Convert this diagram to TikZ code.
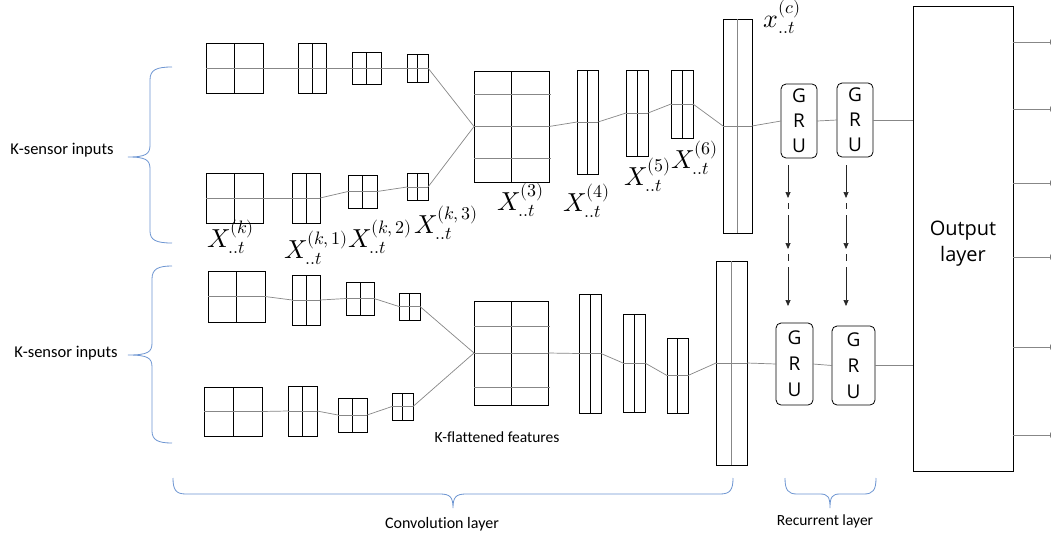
\documentclass[tikz,border=0pt]{standalone}
\usepackage{fontspec}
\usepackage{unicode-math}
\setmathfont{Latin Modern Math}
\newfontfamily\lblfont{Carlito}[Ligatures=NoCommon]
\newfontfamily\osfont{Open Sans}
\usetikzlibrary{arrows.meta}
\definecolor{conngray}{RGB}{135,135,135}
\definecolor{brc}{RGB}{110,150,210}
\tikzset{
 cell/.style={draw=black, line width=1pt, inner sep=0pt, outer sep=0pt, rectangle},
 gridv/.style={line width=0.6pt, black},
 gridvg/.style={line width=0.9pt, conngray},
 gridg/.style={line width=0.7pt, conngray},
 conn/.style={line width=0.7pt, conngray},
 gru/.style={draw, line width=0.8pt, rounded corners=5pt, inner sep=0pt, outer sep=0pt, align=center, font=\osfont\fontsize{19}{25}\selectfont},
 brace/.style={draw=brc, line width=0.8pt},
 lbl/.style={font=\lblfont\fontsize{16}{18}\selectfont, inner sep=0pt},
 mlab/.style={font=\fontsize{26}{30}\selectfont, inner sep=0pt, anchor=base west},
 darr/.style={line width=0.7pt, black!85, -{Triangle[length=6pt,width=5pt]}},
 oarr/.style={line width=0.7pt, conngray, -{Triangle[length=6pt,width=5pt, fill=black]}},
}
\newcommand\cellbox[5]{\node[cell, minimum width=#4, minimum height=#5] (#1) at (#2,#3) {};}
\newcommand\vmid[1]{\draw[gridv] (#1.north) -- (#1.south);}
\newcommand\hmid[1]{\draw[gridg] (#1.west) -- (#1.east);}
\newcommand\smallm[1]{\mbox{\fontsize{18}{18}\selectfont$#1$}}
\newcommand\lab[2]{$#1^{\smallm{(#2)}}_{\smallm{..t}}$}
\begin{document}
\begin{tikzpicture}[x=1pt,y=-1pt]
\fill[white] (0,0) rectangle (1051,533);
\useasboundingbox (0,0) rectangle (1051,533);

% ---------- top group ----------
\cellbox{A1}{234.5}{68}{57}{50}
\cellbox{B1}{312}{68}{28}{50}
\cellbox{C1}{366.5}{68}{29}{32}
\cellbox{D1}{417.5}{68}{21}{28}
\cellbox{A2}{234.5}{198}{57}{50}
\cellbox{B2}{306}{198}{28}{50}
\cellbox{C2}{362.5}{191.5}{29}{33}
\cellbox{D2}{417.5}{187}{21}{27}
\cellbox{E1}{511.5}{126.5}{75}{111}
\cellbox{F1}{587.5}{122}{21}{104}
\cellbox{G1}{637}{113}{22}{86}
\cellbox{H1}{682}{104}{22}{68}
\cellbox{V1}{737.5}{126}{29}{214}
\foreach \n in {A1,B1,C1,D1,A2,B2,C2,D2,E1,F1,G1,H1}{\vmid{\n}}
\foreach \n in {A1,B1,C1,D1,A2,B2,C2,D2,E1,F1,G1,H1,V1}{\hmid{\n}}
\draw[gridvg] (V1.north) -- (V1.south);
\coordinate (e1a) at (474,94);
\coordinate (e1b) at (474,158);
\draw[gridg] (e1a) -- ([xshift=2pt]e1a -| E1.east);
\draw[gridg] (e1b) -- ([xshift=2pt]e1b -| E1.east);

\draw[conn] (A1.east) -- (B1.west);
\draw[conn] (B1.east) -- (C1.west);
\draw[conn] (C1.east) -- (D1.west);
\draw[conn] (A2.east) -- (B2.west);
\draw[conn] (B2.east) -- (C2.west);
\draw[conn] (C2.east) -- (D2.west);
\draw[conn] (D1.east) -- (E1.west);
\draw[conn] (D2.east) -- (E1.west);
\draw[conn] (E1.east) -- (F1.west);
\draw[conn] (F1.east) -- (G1.west);
\draw[conn] (G1.east) -- (H1.west);
\draw[conn] (H1.east) -- (V1.west);

% ---------- bottom group ----------
\cellbox{A3}{236.5}{296.5}{57}{51}
\cellbox{B3}{306}{300}{28}{50}
\cellbox{C3}{360}{298.5}{28}{33}
\cellbox{D3}{409.5}{306.5}{21}{27}
\cellbox{A4}{233}{411.5}{58}{49}
\cellbox{B4}{302.5}{411}{29}{50}
\cellbox{C4}{352.5}{415}{29}{34}
\cellbox{D4}{402.5}{406.5}{21}{27}
\cellbox{E2}{511}{353}{74}{104}
\cellbox{F2}{590}{353.5}{22}{119}
\cellbox{G2}{634}{363}{22}{98}
\cellbox{H2}{677.5}{375.5}{21}{75}
\cellbox{V2}{731.5}{363}{31}{204}
\foreach \n in {A3,B3,C3,D3,A4,B4,C4,D4,E2,F2,G2,H2}{\vmid{\n}}
\foreach \n in {A3,B3,C3,D3,A4,B4,C4,D4,E2,F2,G2,H2,V2}{\hmid{\n}}
\draw[gridvg] (V2.north) -- (V2.south);
\coordinate (e2a) at (474,326);
\coordinate (e2b) at (474,387);
\draw[gridg] (e2a) -- ([xshift=2pt]e2a -| E2.east);
\draw[gridg] (e2b) -- ([xshift=2pt]e2b -| E2.east);

\draw[conn] (A3.east) -- (B3.west);
\draw[conn] (B3.east) -- (C3.west);
\draw[conn] (C3.east) -- (D3.west);
\draw[conn] (A4.east) -- (B4.west);
\draw[conn] (B4.east) -- (C4.west);
\draw[conn] (C4.east) -- (D4.west);
\draw[conn] (D3.east) -- (E2.west);
\draw[conn] (D4.east) -- (E2.west);
\draw[conn] (E2.east) -- (F2.west);
\draw[conn] (F2.east) -- (G2.west);
\draw[conn] (G2.east) -- (H2.west);
\draw[conn] (H2.east) -- (V2.west);

% ---------- GRUs ----------
\node[gru, minimum width=36, minimum height=74] (G1u) at (799,121) {G\\R\\U};
\node[gru, minimum width=36, minimum height=74] (G2u) at (855,120) {G\\R\\U};
\node[gru, minimum width=37, minimum height=82, font=\osfont\fontsize{19}{26}\selectfont] (G3u) at (794.5,364) {G\\R\\U};
\node[gru, minimum width=43, minimum height=79, font=\osfont\fontsize{19}{26}\selectfont] (G4u) at (853.5,365.5) {G\\R\\U};

\node[cell, minimum width=100, minimum height=465] (Out) at (963,238.5) {};
\node[font=\osfont\fontsize{20}{26}\selectfont, align=center, inner sep=0pt] (outtxt) at (963,244) {Output\\layer};

\draw[conn] (V1.east) -- (G1u.west);
\draw[conn] (G1u.east) -- (G2u.west);
\draw[conn] (G2u.east) -- (G2u.east -| Out.west);
\draw[conn] (V2.east) -- (G3u.west);
\draw[conn] (G3u.east) -- (G4u.west);
\draw[conn] (G4u.east) -- (G4u.east -| Out.west);

% vertical recurrent arrows
\foreach \c/\x in {l/788,r/846}{
  \coordinate (\c0) at (\x,165);
  \coordinate (\c1) at (\x,198);
  \coordinate (\c2) at (\x,203);
  \coordinate (\c3) at (\x,249);
  \coordinate (\c4) at (\x,254);
  \coordinate (\c5) at (\x,306);
  \draw[darr] (\c0) -- (\c1);
  \draw[darr, dash pattern=on 6pt off 6pt on 60pt] (\c2) -- (\c3);
  \draw[darr, dash pattern=on 7pt off 6pt on 60pt] (\c4) -- (\c5);
}

% output arrows
\foreach \i/\y in {1/42,2/109,3/183,4/257,5/347,6/435}{
  \coordinate (o\i) at (1056,\y);
  \draw[oarr] (o\i -| Out.east) -- (o\i);
}

% ---------- math labels ----------
\node[mlab] (lk)  at (207,247) {\lab{X}{k}};
\node[mlab] (lk1) at (284,258) {\lab{X}{k,1}};
\node[mlab] (lk2) at (348,247) {\lab{X}{k,2}};
\node[mlab] (lk3) at (414,233) {\lab{X}{k,3}};
\node[mlab] (l3)  at (497,210) {\lab{X}{3}};
\node[mlab] (l4)  at (563,211) {\lab{X}{4}};
\node[mlab] (l5)  at (624,185) {\lab{X}{5}};
\node[mlab] (l6)  at (671,168) {\lab{X}{6}};
\node[mlab] (lc)  at (763,27)  {\lab{x}{c}};

% ---------- text labels ----------
\node[lbl, font=\lblfont\fontsize{16.5}{18}\selectfont] (ks1) at (62,150) {K-sensor inputs};
\node[lbl, font=\lblfont\fontsize{16.5}{18}\selectfont] (ks2) at (66,353) {K-sensor inputs};
\node[lbl, font=\lblfont\fontsize{15.5}{18}\selectfont] (kf)  at (497,437) {K-flattened features};
\node[lbl] (cl)  at (442,524) {Convolution layer};
\node[lbl, font=\lblfont\fontsize{15.5}{18}\selectfont] (rl)  at (825,521) {Recurrent layer};

% ---------- braces ----------
\draw[brace] (172,67) .. controls (156,67) and (150,70) .. (150,80) -- (150,145)
  .. controls (150,154) and (146,157) .. (128,157)
  .. controls (146,157) and (150,160) .. (150,169) -- (150,231)
  .. controls (150,240) and (156,243) .. (172,243);
\draw[brace] (172,266) .. controls (158,266) and (152,269) .. (152,279) -- (152,343)
  .. controls (152,352) and (148,355) .. (128,355)
  .. controls (148,355) and (152,358) .. (152,367) -- (152,431)
  .. controls (152,440) and (158,443) .. (172,443);
\draw[brace] (173,478) .. controls (173,490) and (176,494) .. (186,494) -- (440,494)
  .. controls (450,494) and (453,497) .. (453,508)
  .. controls (453,497) and (456,494) .. (466,494) -- (720,494)
  .. controls (730,494) and (733,490) .. (733,478);
\draw[brace] (785,478) .. controls (785,490) and (788,494) .. (797,494) -- (820,494)
  .. controls (828,494) and (830,497) .. (830,508)
  .. controls (830,497) and (832,494) .. (840,494) -- (864,494)
  .. controls (873,494) and (876,490) .. (876,478);
\end{tikzpicture}
\end{document}
